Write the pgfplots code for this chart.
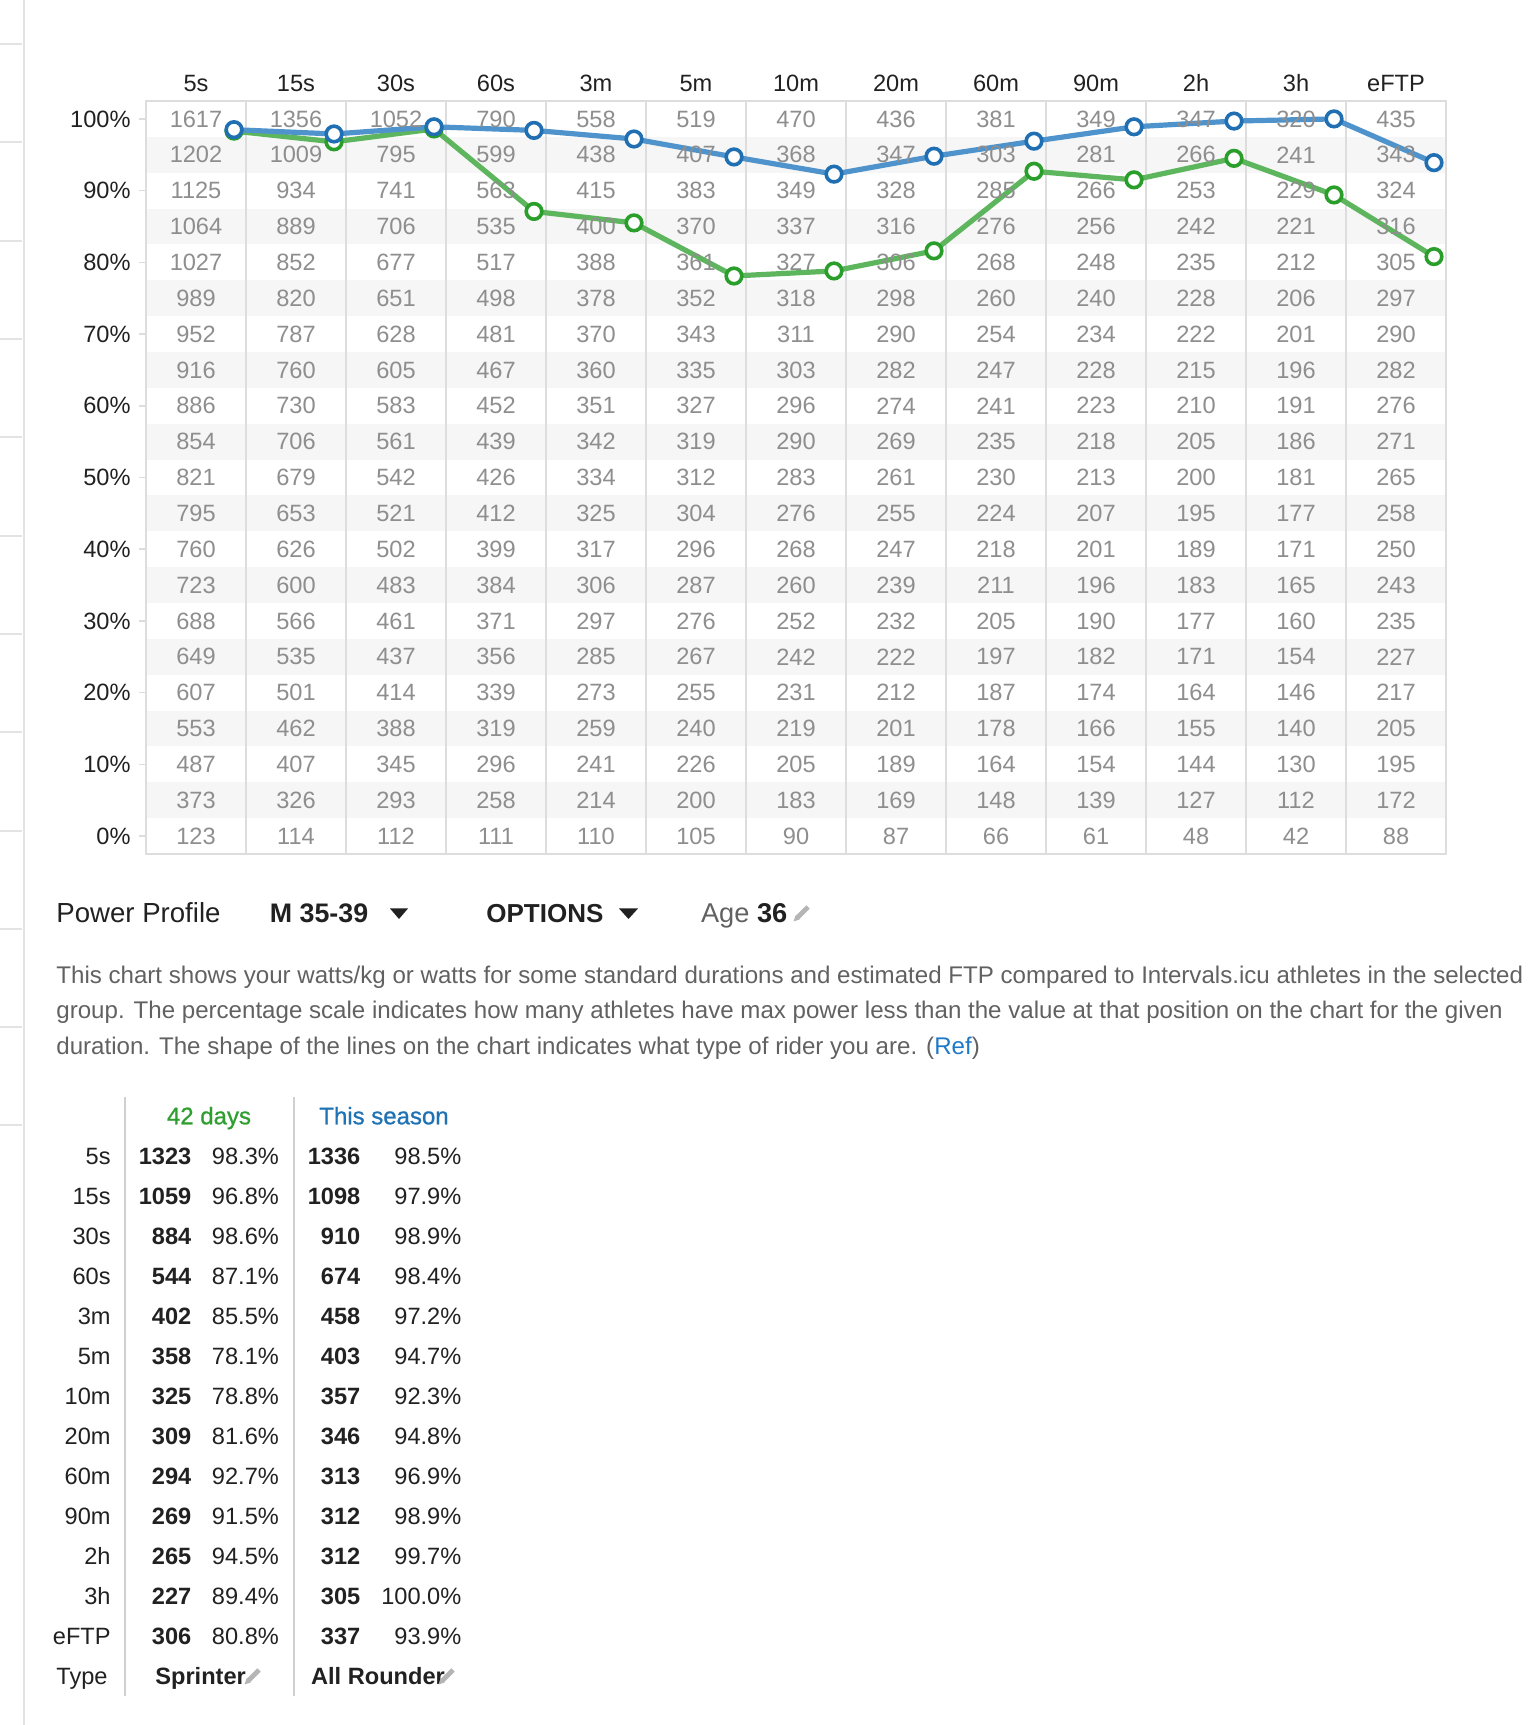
\documentclass[border=0pt]{standalone}
\usepackage{pgfplots}
\pgfplotsset{compat=1.18}
\usepackage{pgfplotstable}
\usepackage{fontspec}
\setmainfont{Liberation Sans}
\newfontfamily\medfont[FakeBold=0.9]{Liberation Sans}
\definecolor{gridnum}{HTML}{8E8E8E}
\definecolor{gridline}{HTML}{DDDDDD}
\definecolor{band}{HTML}{F6F6F6}
\definecolor{bline}{HTML}{4F93CC}
\definecolor{bmark}{HTML}{1F6FB2}
\definecolor{gline}{HTML}{5DB55D}
\definecolor{gmark}{HTML}{2A9E2A}
\definecolor{txt}{HTML}{212121}
\definecolor{para}{HTML}{616161}
\definecolor{ghead}{HTML}{2E9E2E}
\definecolor{bhead}{HTML}{1F72B4}
\definecolor{linkblue}{HTML}{1E78C8}
\definecolor{side}{HTML}{E3E3E3}
\definecolor{sep}{HTML}{D0D0D0}
\definecolor{pencil}{HTML}{B5B5B5}

\pgfplotstableread{
pct c0 c1 c2 c3 c4 c5 c6 c7 c8 c9 c10 c11 c12
100 1617 1356 1052 790 558 519 470 436 381 349 347 320 435
95 1202 1009 795 599 438 407 368 347 303 281 266 241 343
90 1125 934 741 563 415 383 349 328 285 266 253 229 324
85 1064 889 706 535 400 370 337 316 276 256 242 221 316
80 1027 852 677 517 388 361 327 306 268 248 235 212 305
75 989 820 651 498 378 352 318 298 260 240 228 206 297
70 952 787 628 481 370 343 311 290 254 234 222 201 290
65 916 760 605 467 360 335 303 282 247 228 215 196 282
60 886 730 583 452 351 327 296 274 241 223 210 191 276
55 854 706 561 439 342 319 290 269 235 218 205 186 271
50 821 679 542 426 334 312 283 261 230 213 200 181 265
45 795 653 521 412 325 304 276 255 224 207 195 177 258
40 760 626 502 399 317 296 268 247 218 201 189 171 250
35 723 600 483 384 306 287 260 239 211 196 183 165 243
30 688 566 461 371 297 276 252 232 205 190 177 160 235
25 649 535 437 356 285 267 242 222 197 182 171 154 227
20 607 501 414 339 273 255 231 212 187 174 164 146 217
15 553 462 388 319 259 240 219 201 178 166 155 140 205
10 487 407 345 296 241 226 205 189 164 154 144 130 195
5 373 326 293 258 214 200 183 169 148 139 127 112 172
0 123 114 112 111 110 105 90 87 66 61 48 42 88
}\grid

\begin{document}
\begin{tikzpicture}
\begin{axis}[
  at={(73pt,435.5pt)}, anchor=south west,
  scale only axis, width=650pt, height=376.5pt,
  set layers=standard,
  xmin=0, xmax=13, ymin=-2.5, ymax=102.5,
  axis line style={gridline, line width=0.75pt},
  xtick={0.5,1.5,...,12.5},
  xticklabels={5s,15s,30s,60s,3m,5m,10m,20m,60m,90m,2h,3h,eFTP},
  xticklabel pos=upper,
  x tick style={draw=none},
  xticklabel style={anchor=base, yshift=1.4pt, inner sep=0pt, font=\fontsize{11.8}{14}\selectfont, text=txt},
  minor xtick={1,...,12}, xminorgrids,
  minor grid style={gridline, line width=0.75pt},
  minor x tick style={draw=none},
  ytick={0,10,...,100},
  yticklabels={0\%,10\%,20\%,30\%,40\%,50\%,60\%,70\%,80\%,90\%,100\%},
  ytick pos=left, tick align=outside, major tick length=3.5pt,
  y tick style={gridline, line width=0.75pt},
  yticklabel style={anchor=east, inner sep=0pt, xshift=-4pt, font=\fontsize{11.8}{14}\selectfont, text=txt},
  clip=false,
]
\begin{pgfonlayer}{axis background}
\pgfplotsinvokeforeach{5,15,25,35,45,55,65,75,85,95}{
  \fill[band] (axis cs:0,#1-2.5) rectangle (axis cs:13,#1+2.5);
}
\end{pgfonlayer}
\pgfplotsinvokeforeach{0,...,12}{
  \addplot[draw=none, nodes near coords, point meta=explicit symbolic,
    nodes near coords align=center,
    every node near coord/.append style={font=\fontsize{11.8}{14}\selectfont, text=gridnum, inner sep=0pt, anchor=center}]
    table[x expr=#1+0.5, y=pct, meta=c#1] {\grid};
}
% 42 days
\addplot[gline, line width=2.6pt, mark=*, mark size=3.9pt,
  mark options={fill=white, draw=gmark, line width=1.8pt}] coordinates {
  (0.88,98.3) (1.88,96.8) (2.88,98.6) (3.88,87.1) (4.88,85.5) (5.88,78.1) (6.88,78.8)
  (7.88,81.6) (8.88,92.7) (9.88,91.5) (10.88,94.5) (11.88,89.4) (12.88,80.8)};
% This season
\addplot[bline, line width=2.6pt, mark=*, mark size=3.9pt,
  mark options={fill=white, draw=bmark, line width=1.8pt}] coordinates {
  (0.88,98.5) (1.88,97.9) (2.88,98.9) (3.88,98.4) (4.88,97.2) (5.88,94.7) (6.88,92.3)
  (7.88,94.8) (8.88,96.9) (9.88,98.9) (10.88,99.7) (11.88,100.0) (12.88,93.9)};
\end{axis}

\begin{scope}[x=0.5pt,y=0.5pt]
% sidebar
\draw[side, line width=1.2pt] (24,0) -- (24,1725);
\foreach \yy in {44,142,241,339,437,536,634,732,831,929,1027,1125}{
  \draw[side, line width=0.8pt] (0,1725-\yy) -- (22,1725-\yy);
}
% Power profile line
\node[anchor=base west, inner sep=0pt, font=\fontsize{13.8}{15}\selectfont, text=txt] at (56,802) {Power Profile};
\node[anchor=base west, inner sep=0pt, font=\fontsize{13.4}{15}\selectfont\bfseries, text=txt] at (269.5,802) {M 35-39};
\fill[txt] (390,816.5) -- (408,816.5) -- (399,806) -- cycle;
\node[anchor=base west, inner sep=0pt, font=\fontsize{13}{15}\selectfont\bfseries, text=txt] at (486,802) {OPTIONS};
\fill[txt] (619,816.5) -- (638,816.5) -- (628.5,806) -- cycle;
\node[anchor=base west, inner sep=0pt, font=\fontsize{13.6}{15}\selectfont, text=para] at (700.7,802) {Age \textcolor{txt}{\bfseries 36}};
\draw[pencil, line width=2.4pt] (797,807) -- (808,818);
\fill[pencil] (793.5,803.5) -- (799.5,805.5) -- (795.5,809.5) -- cycle;

% paragraph
\begin{scope}[every node/.style={anchor=base west, inner sep=0pt, font=\fontsize{12.05}{14}\selectfont, text=para}]
\node at (56,741) {This chart shows your watts/kg or watts for some standard durations and estimated FTP compared to Intervals.icu athletes in the selected};
\node at (56,706) {group. The percentage scale indicates how many athletes have max power less than the value at that position on the chart for the given};
\node at (56,670) {duration. The shape of the lines on the chart indicates what type of rider you are. (\textcolor{linkblue}{Ref})};
\end{scope}

% table
\draw[sep, line width=1pt] (125,628) -- (125,29);
\draw[sep, line width=1pt] (294,628) -- (294,29);
\begin{scope}[every node/.style={inner sep=0pt, font=\fontsize{11.8}{14}\selectfont, text=txt}]
\node[anchor=base, text=ghead, font=\fontsize{12}{14}\medfont] at (209,600.7) {42 days};
\node[anchor=base, text=bhead, font=\fontsize{12}{14}\medfont] at (384,600.7) {This season};
\foreach \lab/\va/\pa/\vb/\pb [count=\k from 0] in {
  5s/1323/98.3\%/1336/98.5\%,
  15s/1059/96.8\%/1098/97.9\%,
  30s/884/98.6\%/910/98.9\%,
  60s/544/87.1\%/674/98.4\%,
  3m/402/85.5\%/458/97.2\%,
  5m/358/78.1\%/403/94.7\%,
  10m/325/78.8\%/357/92.3\%,
  20m/309/81.6\%/346/94.8\%,
  60m/294/92.7\%/313/96.9\%,
  90m/269/91.5\%/312/98.9\%,
  2h/265/94.5\%/312/99.7\%,
  3h/227/89.4\%/305/100.0\%,
  eFTP/306/80.8\%/337/93.9\%}{
  \node[anchor=base east] at (111,560.7-40*\k) {\lab};
  \node[anchor=base east, font=\fontsize{11.8}{14}\selectfont\bfseries] at (191.7,560.7-40*\k) {\va};
  \node[anchor=base east] at (279.3,560.7-40*\k) {\pa};
  \node[anchor=base east, font=\fontsize{11.8}{14}\selectfont\bfseries] at (360.7,560.7-40*\k) {\vb};
  \node[anchor=base east] at (461.7,560.7-40*\k) {\pb};
}
\node[anchor=base east] at (108,40.7) {Type};
\node[anchor=base west, font=\fontsize{11.8}{14}\selectfont\bfseries] at (155,40.7) {Sprinter};
\node[anchor=base west, font=\fontsize{11.8}{14}\selectfont\bfseries] at (310.7,40.7) {All Rounder};
\end{scope}
\draw[pencil, line width=2.4pt] (248,44) -- (259,55);
\fill[pencil] (244.5,40.5) -- (250.5,42.5) -- (246.5,46.5) -- cycle;
\draw[pencil, line width=2.4pt] (442,44) -- (453,55);
\fill[pencil] (438.5,40.5) -- (444.5,42.5) -- (440.5,46.5) -- cycle;
\end{scope}
\pgfresetboundingbox
\path[use as bounding box] (0,0) rectangle (765pt,862.5pt);
\end{tikzpicture}
\end{document}
